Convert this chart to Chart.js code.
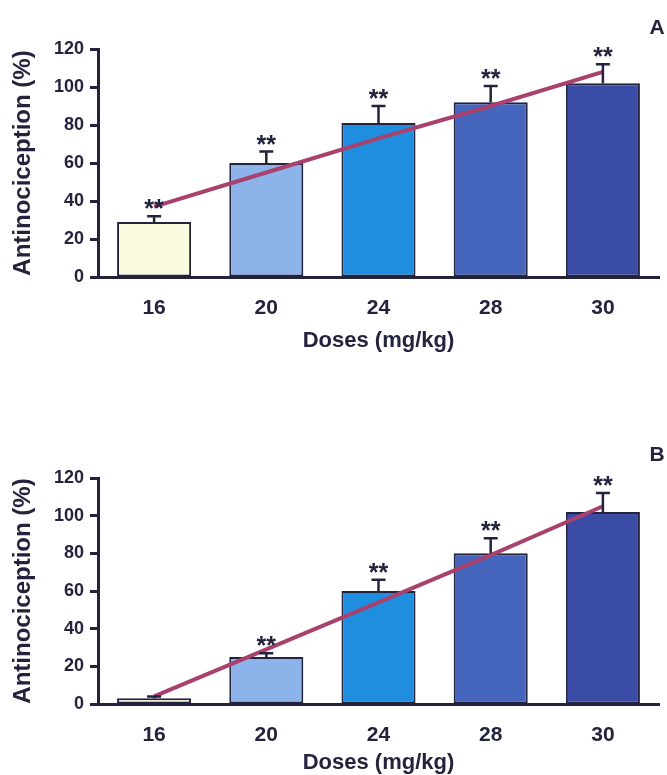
<!DOCTYPE html>
<html>
<head>
<meta charset="utf-8">
<script src="https://cdn.jsdelivr.net/npm/chart.js@4"></script>
<style>
  html, body { margin: 0; padding: 0; background: #fff; overflow: hidden; }
  #wrap { position: relative; width: 667px; height: 775px; }
  .box { position: absolute; left: 0; width: 667px; }
  #boxA { top: 0; height: 380px; }
  #boxB { top: 400px; height: 375px; }
</style>
</head>
<body>
<div id="wrap">
  <div class="box" id="boxA"><canvas id="chartA"></canvas></div>
  <div class="box" id="boxB"><canvas id="chartB"></canvas></div>
</div>
<script>
// Data
const doses = ["16", "20", "24", "28", "30"];

const meanA = [29, 60, 81, 92, 102];
const errA = [3, 6, 9, 8.5, 10];
const trendA = [37, 55, 73, 90, 108];
const starsA = [true, true, true, true, true];

const meanB = [3, 25, 60, 80, 102];
const errB = [1, 2, 6, 8, 10];
const trendB = [4, 29, 54, 79, 105];
const starsB = [false, true, true, true, true];

const barColors = ["#fafadf", "#8cb4ea", "#1f8edf", "#4665bd", "#3b4ca6"];
const ink = "#23233d";

Chart.defaults.font.family = "'Liberation Sans', Arial, sans-serif";
Chart.defaults.font.weight = "bold";
Chart.defaults.color = ink;

// error bars (upper only) + significance stars + panel letter
const extrasPlugin = {
  id: "extras",
  afterDatasetsDraw(chart, args, opts) {
    const ctx = chart.ctx;
    const x = chart.scales.x, y = chart.scales.y;
    ctx.save();
    opts.mean.forEach((m, i) => {
      const cx = x.getPixelForValue(i);
      const top = y.getPixelForValue(m + opts.err[i]);
      const base = y.getPixelForValue(m);
      ctx.strokeStyle = ink;
      ctx.lineWidth = 2.5;
      ctx.beginPath();
      ctx.moveTo(cx, base);
      ctx.lineTo(cx, top);
      ctx.moveTo(cx - 7, top);
      ctx.lineTo(cx + 7, top);
      ctx.stroke();
      if (opts.stars[i]) {
        ctx.fillStyle = ink;
        ctx.font = "bold 25px 'Liberation Sans', Arial";
        ctx.textAlign = "center";
        ctx.textBaseline = "alphabetic";
        ctx.fillText("**", cx, top + 1);
      }
    });
    ctx.fillStyle = ink;
    ctx.font = "bold 21px 'Liberation Sans', Arial";
    ctx.textAlign = "center";
    ctx.textBaseline = "middle";
    ctx.fillText(opts.letter, chart.width - 10, opts.letterY);
    ctx.restore();
  }
};

function makeChart(id, mean, err, trend, stars, letter, letterY, padTop, xHeight, titlePad) {
  return new Chart(document.getElementById(id), {
    type: "bar",
    data: {
      labels: doses,
      datasets: [
        {
          type: "line",
          data: trend,
          borderColor: "#a8416d",
          borderWidth: 4,
          pointRadius: 0,
          tension: 0,
          order: 0
        },
        {
          data: mean,
          backgroundColor: barColors,
          borderColor: ink,
          borderWidth: 2,
          borderSkipped: false,
          categoryPercentage: 1,
          barPercentage: 0.66,
          order: 1
        }
      ]
    },
    options: {
      responsive: true,
      maintainAspectRatio: false,
      animation: false,
      layout: { padding: { top: padTop, right: 8, left: 0, bottom: 0 } },
      plugins: {
        legend: { display: false },
        tooltip: { enabled: false },
        extras: { mean, err, stars, letter, letterY }
      },
      scales: {
        x: {
          grid: { display: false, drawTicks: false },
          border: { color: ink, width: 3 },
          ticks: {
            padding: 19,
            font: { size: 21, weight: "bold" },
            color: ink
          },
          title: {
            display: true,
            text: "Doses (mg/kg)",
            color: ink,
            font: { size: 22, weight: "bold", lineHeight: 1 },
            padding: { top: 0, bottom: titlePad }
          },
          afterFit(scale) { scale.height = xHeight; }
        },
        y: {
          min: 0,
          max: 120,
          ticks: {
            stepSize: 20,
            padding: 6,
            font: { size: 18, weight: "bold" },
            color: ink
          },
          grid: { drawOnChartArea: false, drawTicks: true, tickLength: 8, tickWidth: 3, tickColor: ink },
          border: { color: ink, width: 3 },
          title: {
            display: true,
            text: "Antinociception (%)",
            color: ink,
            font: { size: 24, weight: "bold", lineHeight: 1 },
            padding: { top: 11, bottom: 0 }
          },
          afterFit(scale) { scale.width = 98; }
        }
      }
    },
    plugins: [extrasPlugin]
  });
}

makeChart("chartA", meanA, errA, trendA, starsA, "A", 28, 49, 103, 28);
makeChart("chartB", meanB, errB, trendB, starsB, "B", 55, 78, 71, 1);
</script>
</body>
</html>
